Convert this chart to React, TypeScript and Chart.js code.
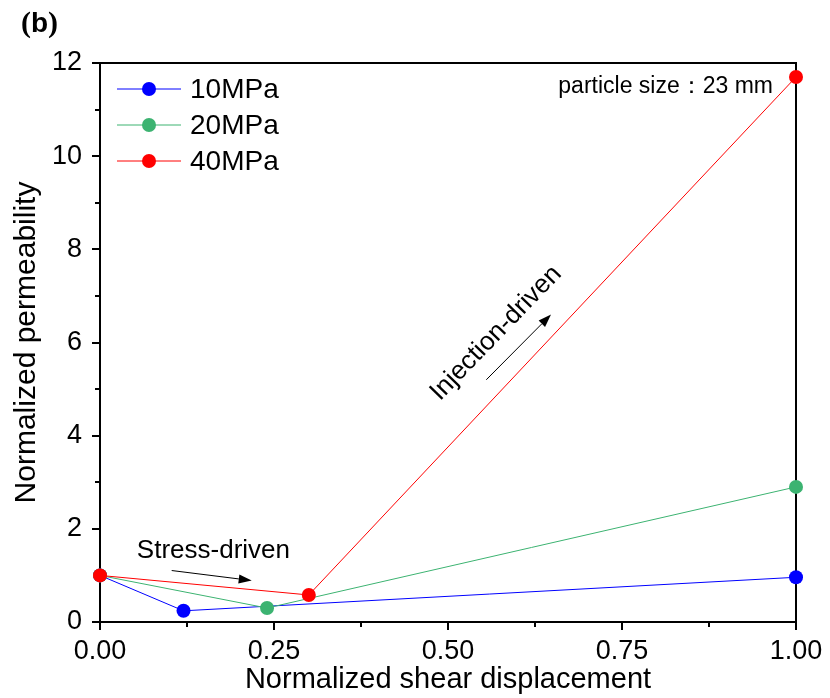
import React, { useEffect, useRef } from "react";
import { Chart, registerables } from "chart.js";

Chart.register(...registerables);

const seriesNames = ["10MPa", "20MPa", "40MPa"];
const seriesColors = ["#0000FF", "#3CB371", "#FF0000"];
const xs10 = [0, 0.12, 1.0];
const ys10 = [1.0, 0.24, 0.96];
const xs20 = [0, 0.24, 1.0];
const ys20 = [1.0, 0.3, 2.9];
const xs40 = [0, 0.3, 1.0];
const ys40 = [1.0, 0.58, 11.7];
const xTickValues = [0, 0.25, 0.5, 0.75, 1.0];
const yTickValues = [0, 2, 4, 6, 8, 10, 12];

const FONT = "'Liberation Sans', Arial, sans-serif";
const SERIF = "'Liberation Serif', 'Times New Roman', serif";

function arrow(ctx: CanvasRenderingContext2D, x1: number, y1: number, x2: number, y2: number) {
  const ang = Math.atan2(y2 - y1, x2 - x1);
  const hl = 13, hw = 4.5;
  const bx = x2 - hl * Math.cos(ang);
  const by = y2 - hl * Math.sin(ang);
  ctx.save();
  ctx.strokeStyle = "#000";
  ctx.fillStyle = "#000";
  ctx.lineWidth = 1;
  ctx.beginPath();
  ctx.moveTo(x1, y1);
  ctx.lineTo(bx, by);
  ctx.stroke();
  ctx.beginPath();
  ctx.moveTo(x2, y2);
  ctx.lineTo(bx + hw * Math.sin(ang), by - hw * Math.cos(ang));
  ctx.lineTo(bx - hw * Math.sin(ang), by + hw * Math.cos(ang));
  ctx.closePath();
  ctx.fill();
  ctx.restore();
}

const framePlugin = {
  id: "frameTicks",
  beforeDatasetsDraw(chart: any) {
    const { ctx, chartArea } = chart;
    const xs = chart.scales.x;
    const ys = chart.scales.y;
    ctx.save();
    ctx.strokeStyle = "#000";
    ctx.lineWidth = 2;
    ctx.strokeRect(chartArea.left, chartArea.top, chartArea.right - chartArea.left, chartArea.bottom - chartArea.top);
    ctx.beginPath();
    for (let i = 0; i <= 8; i++) {
      const v = i * 0.125;
      const px = Math.round(xs.getPixelForValue(v));
      const len = i % 2 === 0 ? 8 : 5;
      ctx.moveTo(px, chartArea.bottom);
      ctx.lineTo(px, chartArea.bottom + len);
    }
    for (let i = 0; i <= 12; i++) {
      const py = Math.round(ys.getPixelForValue(i));
      const len = i % 2 === 0 ? 8 : 5;
      ctx.moveTo(chartArea.left, py);
      ctx.lineTo(chartArea.left - len, py);
    }
    ctx.stroke();
    ctx.restore();
  },
  afterDraw(chart: any) {
    const { ctx, chartArea } = chart;
    const xs = chart.scales.x;
    const ys = chart.scales.y;
    ctx.save();
    // legend
    chart.data.datasets.forEach((ds: any, i: number) => {
      const y = chartArea.top + 26 + i * 36;
      const x0 = chartArea.left + 17;
      ctx.strokeStyle = ds.borderColor;
      ctx.lineWidth = 1;
      ctx.beginPath();
      ctx.moveTo(x0, y);
      ctx.lineTo(x0 + 64, y);
      ctx.stroke();
      ctx.fillStyle = ds.backgroundColor;
      ctx.beginPath();
      ctx.arc(x0 + 32, y, 7, 0, Math.PI * 2);
      ctx.fill();
      ctx.fillStyle = "#000";
      ctx.font = `28px ${FONT}`;
      ctx.textAlign = "left";
      ctx.textBaseline = "middle";
      ctx.fillText(ds.label, x0 + 73, y + 1);
    });
    // particle size note
    ctx.fillStyle = "#000";
    ctx.font = `23px ${FONT}`;
    ctx.textAlign = "right";
    ctx.textBaseline = "middle";
    ctx.fillText("particle size：23 mm", xs.getPixelForValue(0.967), ys.getPixelForValue(11.49));
    // stress-driven
    ctx.font = `26px ${FONT}`;
    ctx.textAlign = "center";
    ctx.fillText("Stress-driven", xs.getPixelForValue(0.163), ys.getPixelForValue(1.52));
    arrow(ctx, xs.getPixelForValue(0.103), ys.getPixelForValue(1.105), xs.getPixelForValue(0.218), ys.getPixelForValue(0.89));
    // injection-driven
    ctx.save();
    ctx.translate(xs.getPixelForValue(0.569), ys.getPixelForValue(6.2));
    ctx.rotate((-46 * Math.PI) / 180);
    ctx.font = `26px ${FONT}`;
    ctx.textAlign = "center";
    ctx.textBaseline = "middle";
    ctx.fillText("Injection-driven", 0, 0);
    ctx.restore();
    arrow(ctx, xs.getPixelForValue(0.555), ys.getPixelForValue(5.2), xs.getPixelForValue(0.648), ys.getPixelForValue(6.6));
    // panel label
    ctx.textAlign = "left";
    ctx.textBaseline = "alphabetic";
    ctx.font = `bold 30px ${SERIF}`;
    ctx.fillText("(", 21, 32);
    const w1 = ctx.measureText("(").width;
    ctx.font = `bold 28px ${FONT}`;
    ctx.fillText("b", 21 + w1, 32);
    const w2 = ctx.measureText("b").width;
    ctx.font = `bold 30px ${SERIF}`;
    ctx.fillText(")", 21 + w1 + w2, 32);
    ctx.restore();
  },
};

export default function App() {
  const ref = useRef<HTMLCanvasElement | null>(null);
  useEffect(() => {
    if (!ref.current) return;
    const mk = (xv: number[], yv: number[]) => xv.map((x, i) => ({ x, y: yv[i] }));
    const all = [mk(xs10, ys10), mk(xs20, ys20), mk(xs40, ys40)];
    const chart = new Chart(ref.current, {
      type: "scatter",
      data: {
        datasets: all.map((d, i) => ({
          label: seriesNames[i],
          data: d,
          showLine: true,
          order: all.length - i,
          borderColor: seriesColors[i],
          backgroundColor: seriesColors[i],
          borderWidth: 1,
          pointRadius: 7,
          pointBorderWidth: 0,
          pointHoverRadius: 7,
          clip: false as any,
        })),
      },
      options: {
        animation: false,
        responsive: false,
        devicePixelRatio: 1,
        layout: { padding: { top: 63, right: 34, left: 0, bottom: 0 } },
        plugins: { legend: { display: false }, tooltip: { enabled: false } },
        events: [],
        scales: {
          x: {
            type: "linear",
            min: 0,
            max: 1,
            afterFit: (s: any) => { s.height = 76; s.paddingLeft = 0; s.paddingRight = 0; },
            afterBuildTicks: (s: any) => { s.ticks = xTickValues.map((v) => ({ value: v })); },
            grid: { display: false, drawTicks: false },
            border: { display: false },
            ticks: {
              padding: 13,
              color: "#000",
              font: { family: FONT, size: 27 },
              callback: (v: any) => Number(v).toFixed(2),
            },
            title: {
              display: true,
              text: "Normalized shear displacement",
              color: "#000",
              font: { family: FONT, size: 29 },
              padding: { top: 0, bottom: 1 },
            },
          },
          y: {
            type: "linear",
            min: 0,
            max: 12,
            afterFit: (s: any) => { s.width = 100; s.paddingTop = 0; s.paddingBottom = 0; },
            afterBuildTicks: (s: any) => { s.ticks = yTickValues.map((v) => ({ value: v })); },
            grid: { display: false, drawTicks: false },
            border: { display: false },
            ticks: {
              padding: 18,
              color: "#000",
              font: { family: FONT, size: 27 },
            },
            title: {
              display: true,
              text: "Normalized permeability",
              color: "#000",
              font: { family: FONT, size: 30 },
              padding: { top: 9, bottom: 0 },
            },
          },
        },
      },
      plugins: [framePlugin],
    } as any);
    return () => chart.destroy();
  }, []);
  return (
    <div style={{ position: "absolute", left: 0, top: 0, width: 830, height: 698, background: "#fff" }}>
      <canvas ref={ref} width={830} height={698} />
    </div>
  );
}
